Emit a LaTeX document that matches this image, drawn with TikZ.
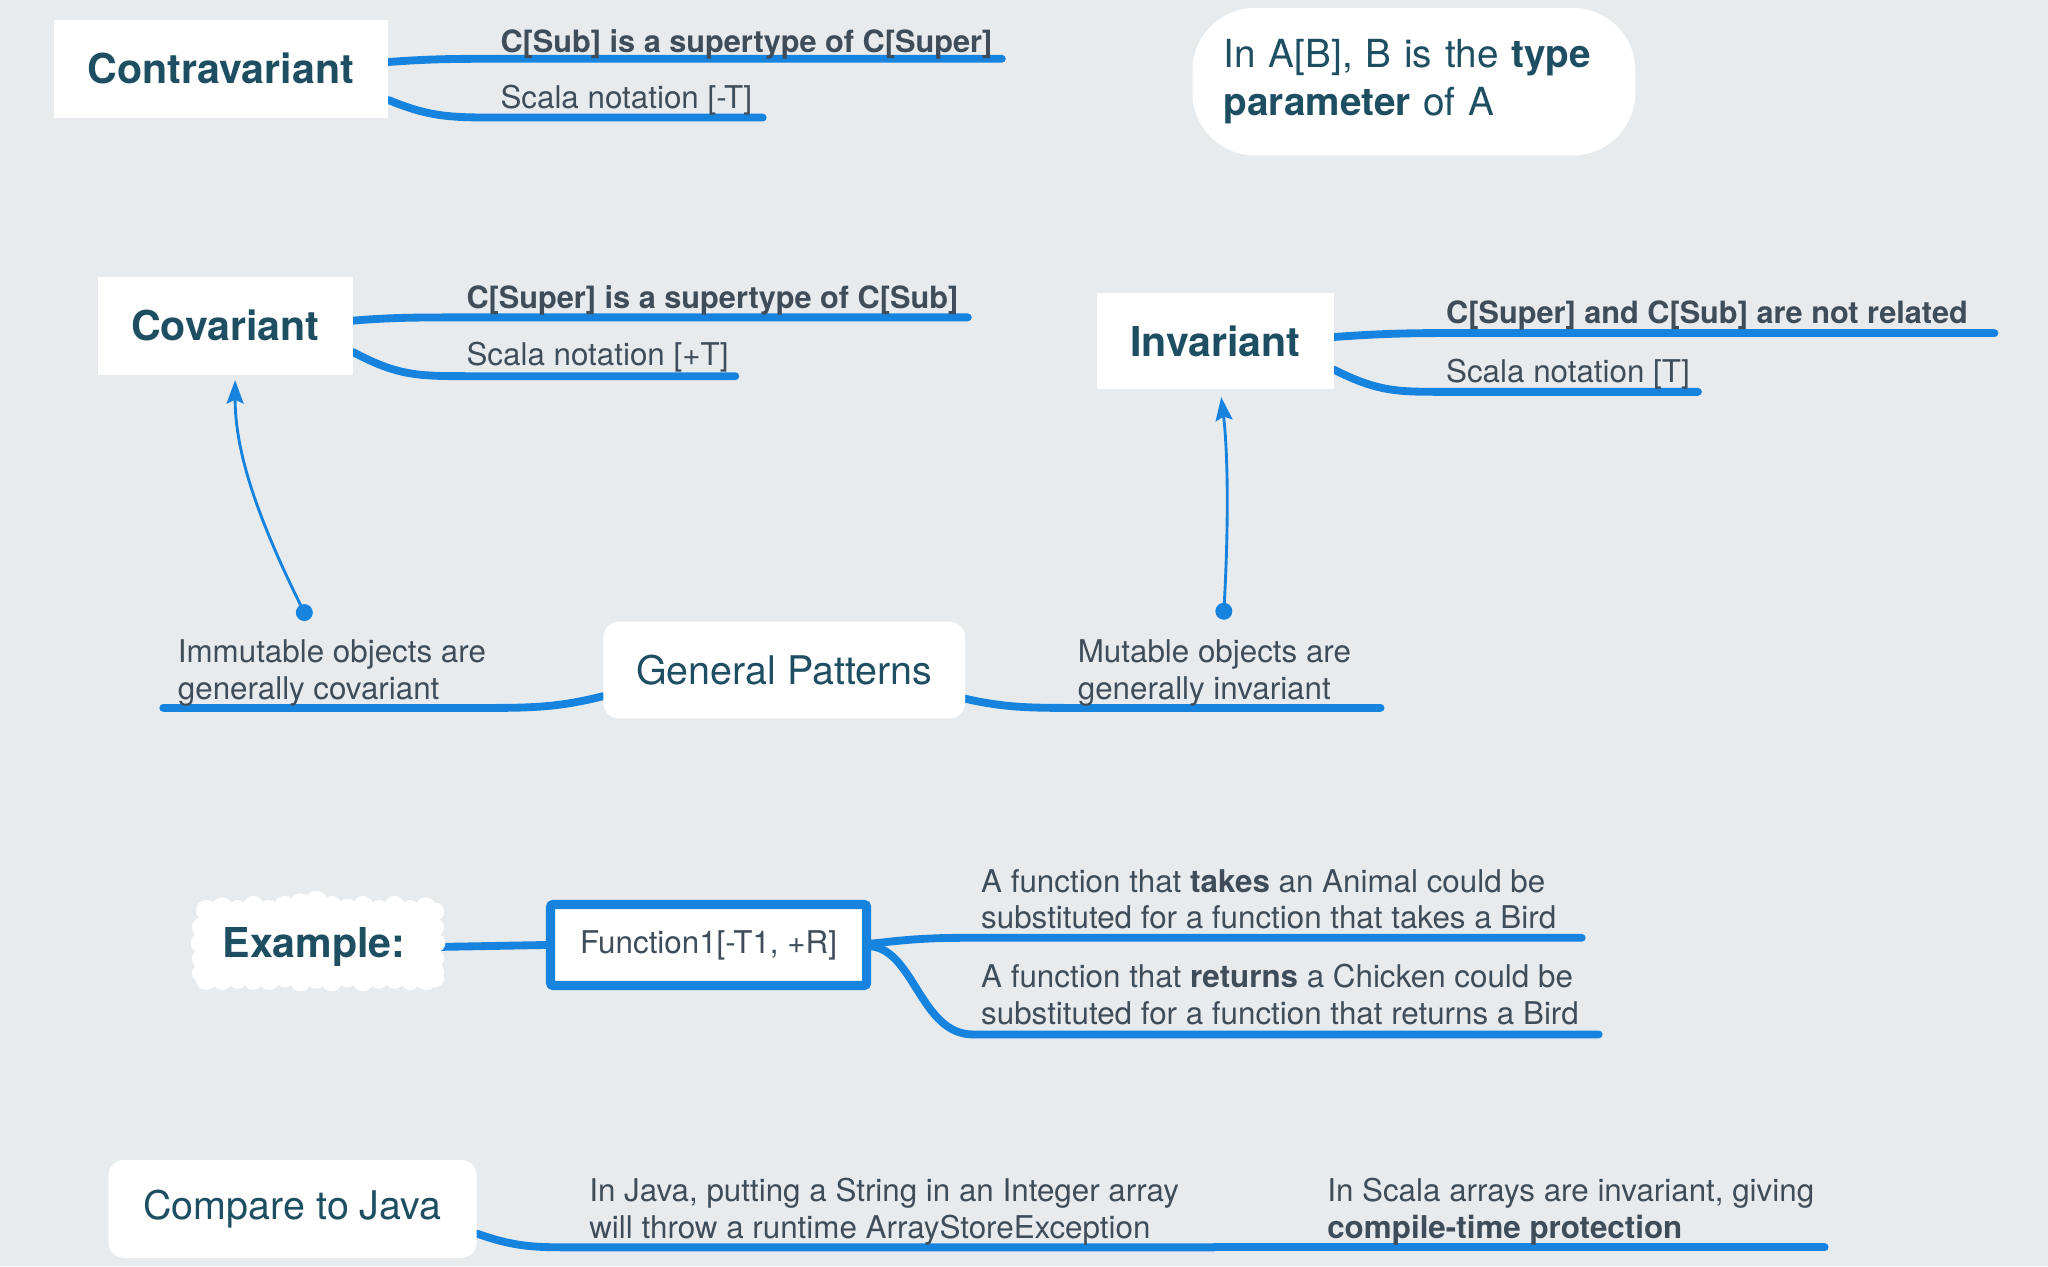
\documentclass[tikz,border=0pt]{standalone}
\usepackage{fontspec}
\setmainfont{TeX Gyre Heros}
\usetikzlibrary{calc,arrows.meta}
\definecolor{bgc}{RGB}{232,235,238}
\definecolor{lineblue}{RGB}{22,132,222}
\definecolor{headc}{RGB}{29,78,98}
\definecolor{textc}{RGB}{62,77,89}
\pgfdeclarelayer{background}
\pgfdeclarelayer{edges}
\pgfsetlayers{background,edges,main}
\tikzset{
  branch/.style={draw=lineblue, line width=6pt, line cap=round},
  arrowline/.style={draw=lineblue, line width=2.2pt, -{Stealth[length=18pt, width=13pt, inset=3pt]}},
  dotnode/.style={circle, fill=lineblue, minimum size=13pt, inner sep=0pt},
  headbox/.style={fill=white, inner sep=0pt, font=\fontsize{31.5}{37}\selectfont\bfseries, text=headc},
  lightbox/.style={fill=white, inner sep=0pt, rounded corners=12pt, font=\fontsize{30.2}{36}\selectfont, text=headc},
  btext/.style={anchor=base west, inner sep=0pt, font=\fontsize{24}{28}\selectfont, text=textc},
  bbtext/.style={btext, font=\fontsize{23.5}{28}\selectfont\bfseries},
  twoline/.style={anchor=north west, inner sep=0pt, align=left, font=\fontsize{24}{28}\selectfont, text=textc},
}
\begin{document}
\begin{tikzpicture}[x=1pt, y=-1pt]
\useasboundingbox (0,0) rectangle (1568,969.3);
\begin{pgfonlayer}{background}
\fill[bgc] (0,0) rectangle (1568,969.3);
\end{pgfonlayer}

% ---------- boxes ----------
\node[headbox, minimum width=256pt, minimum height=75pt] (contra) at (169,52.5) {Contravariant};
\node[headbox, minimum width=195pt, minimum height=75pt] (cov) at (172.5,249.5) {Covariant};
\node[headbox, minimum width=181pt, minimum height=74pt] (inv) at (930.5,261) {Invariant};
\node[fill=white, rounded corners=48pt, minimum width=339pt, minimum height=113pt, text width=291pt, align=left, inner sep=0pt, font=\fontsize{29.6}{37}\selectfont, text=headc] (ab) at (1082.5,62.5) {In A[B], B is the \textbf{type}\\\textbf{parameter} of A};
\node[lightbox, minimum width=277pt, minimum height=74pt] (gp) at (600.5,513) {General Patterns};
\node[lightbox, minimum width=282pt, minimum height=75pt] (cj) at (224,925.5) {Compare to Java};

% cloud for Example
\fill[white] (155,695) rectangle (333,752);
\foreach \x/\y/\r in {158/697/8,170/695/8,182/696/7,194/694/8,206/696/7,218/694/8,230/692/8,242/691/9,254/694/8,266/695/7,278/694/8,290/696/7,302/694/8,314/696/7,326/695/8,333/698/7,
  158/750/8,170/751/7,182/749/8,194/751/7,206/750/8,218/749/7,230/751/8,242/750/7,254/751/8,266/749/7,278/751/8,290/750/7,302/749/8,314/751/7,326/750/8,333/749/7,
  155/710/8,154/722/8,155/734/8,154/745/7,333/710/7,334/722/7,333/734/7,333/744/7}
  \fill[white] (\x,\y) circle (\r);
\node[inner sep=0pt, minimum width=190pt, minimum height=70pt, font=\fontsize{31.5}{37}\selectfont\bfseries, text=headc] (ex) at (240.5,725) {Example:};
\node[draw=lineblue, line width=7pt, fill=white, rounded corners=2pt, minimum width=242pt, minimum height=62pt, inner sep=0pt, font=\fontsize{24}{28}\selectfont, text=textc] (fn) at (542.5,723.5) {Function1[-T1, +R]};

% ---------- branch texts ----------
\node[bbtext] (ct1) at (383,40) {C[Sub] is a supertype of C[Super]};
\node[btext] (ct2) at (383,83) {Scala notation [-T]};
\node[bbtext] (cv1t) at (357,236) {C[Super] is a supertype of C[Sub]};
\node[btext] (cv2t) at (357,280) {Scala notation [+T]};
\node[bbtext] (iv1t) at (1107,248) {C[Super] and C[Sub] are not related};
\node[btext] (iv2t) at (1107,293) {Scala notation [T]};
\node[twoline] (imm) at (136,487.4) {\strut Immutable objects are\\\strut generally covariant};
\node[twoline] (mut) at (825,487.4) {\strut Mutable objects are\\\strut generally invariant};
\node[twoline] (ft1) at (751,663.4) {\strut A function that \textbf{takes} an Animal could be\\\strut substituted for a function that takes a Bird};
\node[twoline] (ft2) at (751,736.4) {\strut A function that \textbf{returns} a Chicken could be\\\strut substituted for a function that returns a Bird};
\node[twoline] (jt) at (451,900.4) {\strut In Java, putting a String in an Integer array\\\strut will throw a runtime ArrayStoreException};
\node[twoline] (st) at (1016,900.4) {\strut In Scala arrays are invariant, giving\\\strut \textbf{compile-time protection}};

% ---------- coordinates ----------
\coordinate (cs1) at (767,45);
\coordinate (cs2) at (584,90);
\coordinate (cv1) at (741,243);
\coordinate (cv2) at (563,288);
\coordinate (iv1) at (1527,255);
\coordinate (iv2) at (1300,300);
\coordinate (gl) at (125,542);
\coordinate (gr) at (1057,542);
\coordinate (f1) at (1211,718);
\coordinate (f2) at (1224,792);
\coordinate (cj1) at (930,955);
\coordinate (cj2) at (1397,955);
\coordinate (cvtip) at (180,291);
\coordinate (ivtip) at (935,304);

\node[dotnode] (d1) at (233,469) {};
\node[dotnode] (d2) at (937,468) {};

% ---------- connectors ----------
\begin{pgfonlayer}{edges}
\draw[branch] ($(contra.east)+(0,-5)$) .. controls (330,45) and (350,45) .. (385,45) -- (cs1);
\draw[branch] ($(contra.east)+(0,24)$) .. controls (330,90) and (345,90) .. (385,90) -- (cs2);
\draw[branch] ($(cov.east)+(0,-4)$) .. controls (300,243) and (320,243) .. (360,243) -- (cv1);
\draw[branch] ($(cov.east)+(0,20)$) .. controls (305,288) and (320,288) .. (360,288) -- (cv2);
\draw[branch] ($(inv.east)+(0,-3)$) .. controls (1050,256) and (1070,255) .. (1105,255) -- (iv1);
\draw[branch] ($(inv.east)+(0,22)$) .. controls (1055,300) and (1070,300) .. (1105,300) -- (iv2);
\draw[branch] ($(gp.west)+(0,20)$) .. controls (430,541) and (410,542) .. (375,542) -- (gl);
\draw[branch] ($(gp.east)+(0,22)$) .. controls (770,542) and (790,542) .. (825,542) -- (gr);
\draw[branch] (ex.east) -- (fn.west);
\draw[branch] ($(fn.east)+(0,-1)$) .. controls (690,720) and (705,718) .. (740,718) -- (f1);
\draw[branch] ($(fn.east)+(0,1)$) .. controls (700,728) and (705,792) .. (745,792) -- (f2);
\draw[branch] ($(cj.east)+(0,19)$) .. controls (395,955) and (410,955) .. (440,955) -- (cj1);
\draw[branch] (cj1) -- (cj2);
\draw[arrowline] (d1.center) .. controls (196,395) and (180,345) .. (cvtip);
\draw[arrowline] (d2.center) .. controls (941,400) and (940,345) .. (ivtip);
\end{pgfonlayer}
\end{tikzpicture}
\end{document}
